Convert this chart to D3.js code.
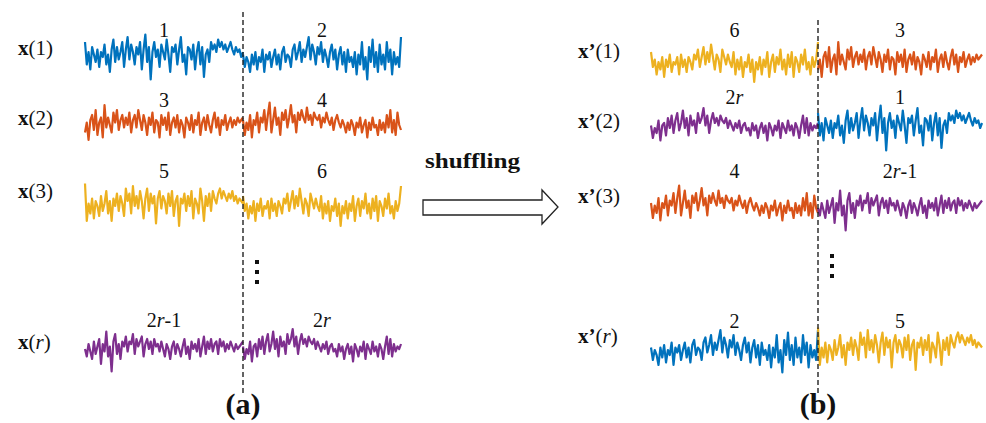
<!DOCTYPE html>
<html><head><meta charset="utf-8">
<script src="https://cdn.jsdelivr.net/npm/d3@7"></script>
<style>body{margin:0;background:#fff}svg{display:block}</style>
</head><body>
<script>
// Signal segments (normalised amplitude), one per labelled piece
const seg1 = [0.6,-0.3,0.2,-0.5,0.4,0.1,-0.2,0.3,-0.4,0.2,0.0,0.5,-0.3,0.1,-0.6,
  0.3,0.7,-0.2,0.4,-0.1,0.2,0.6,-0.4,0.3,0.8,-0.1,0.5,0.2,-0.3,0.4,
  0.1,0.6,-0.5,0.3,0.9,-0.2,0.4,-0.9,0.2,0.6,0.0,0.3,-0.4,0.5,0.2,
  -0.1,0.7,0.1,-0.6,0.4,0.2,0.5,-0.3,0.3,0.8,-0.2,0.1,-0.7,0.4,0.3,
  -0.1,0.5,-0.5,0.2,0.6,-0.3,0.4,-0.8,0.1,0.3,-0.2,0.6,0.3,0.5,0.2,
  0.7,0.4,0.6,0.3,0.5,0.2,0.4,0.6,0.3,0.1,0.4,0.2,0.3,0.0,0.2];
const seg2 = [0.1,-0.4,0.0,-0.2,-0.6,0.1,-0.3,0.2,-0.5,0.0,-0.2,0.3,-0.6,0.1,-0.1,
  0.2,-0.4,0.0,0.3,-0.3,0.1,-0.5,0.2,0.4,-0.2,0.1,0.0,-0.4,0.3,0.5,
  -0.1,0.2,0.6,-0.2,0.3,0.0,0.4,0.8,-0.1,0.5,0.2,-0.3,0.4,0.1,0.6,
  -0.2,0.3,0.0,-0.4,0.2,0.5,-0.1,0.3,-0.5,0.1,0.4,-0.3,0.2,-0.6,0.3,
  -0.2,0.0,-0.4,0.2,-0.7,0.1,-0.3,0.6,-0.5,0.0,-0.9,0.4,-0.2,0.7,-0.4,
  0.2,-0.6,0.5,-0.3,0.1,-0.5,0.6,-0.2,0.3,-0.7,0.2,-0.3,0.0,-0.4,0.8];
const seg3 = [-0.3,0.1,-0.6,0.2,0.4,-0.2,0.6,-0.4,0.1,0.3,-0.5,0.8,-0.1,0.3,0.0,
  -0.3,0.5,0.1,0.6,-0.2,0.2,0.4,-0.1,0.3,0.0,0.5,-0.3,0.2,0.4,-0.1,
  0.6,0.2,-0.2,0.4,0.1,-0.4,0.3,0.0,0.5,-0.3,0.2,0.1,-0.5,0.4,0.0,
  0.3,-0.2,0.5,-0.4,0.1,0.3,-0.1,0.4,-0.3,0.2,0.0,-0.5,0.3,0.1,-0.2,
  0.4,-0.3,0.2,0.0,0.5,-0.4,0.1,0.3,-0.2,0.4,0.0,-0.3,0.2,0.5,-0.1,
  0.3,-0.4,0.2,0.0,0.4,-0.2,0.1,0.3,-0.1,0.2,0.0,0.3,0.1,0.2,0.3];
const seg4 = [0.2,-0.4,0.1,-0.2,0.4,-0.5,0.2,0.0,0.5,-0.3,0.3,0.1,0.6,-0.2,0.4,
  0.9,-0.3,0.2,0.7,0.0,0.3,-0.4,0.5,0.2,0.6,-0.1,0.3,0.8,0.1,0.4,
  -0.3,0.5,0.2,0.6,0.3,0.1,0.7,0.2,0.4,0.0,0.5,0.3,0.2,0.4,-0.1,
  0.3,0.1,0.5,0.2,0.0,0.3,-0.2,0.2,0.4,0.1,-0.1,0.2,0.0,-0.3,0.1,
  -0.2,0.2,0.0,-0.4,0.1,-0.1,0.3,-0.3,0.0,0.2,-0.5,0.1,-0.2,0.3,-0.1,
  0.0,-0.4,0.2,-0.2,0.1,-0.3,0.4,-0.1,0.6,-0.3,0.2,-0.4,0.5,0.0,-0.2];
const seg5 = [0.9,-0.6,0.1,-0.3,0.3,-0.5,0.2,0.0,-0.4,0.4,-0.2,0.1,0.6,-0.3,0.2,
  -0.6,0.3,0.0,0.5,-0.2,0.4,0.1,-0.4,0.7,0.2,0.5,-0.3,0.8,0.0,0.4,
  -0.1,0.6,0.2,-0.5,0.3,0.7,-0.2,0.5,0.1,0.4,-0.7,0.3,0.6,-0.1,0.4,
  0.2,-0.3,0.5,0.0,0.6,-0.4,0.2,0.4,-0.8,0.3,0.1,0.5,-0.2,0.4,0.0,
  0.6,-0.5,0.3,0.1,-0.3,0.7,0.2,-0.6,0.4,0.0,0.5,-0.2,0.6,0.3,0.1,
  0.5,0.7,0.3,0.6,0.4,0.2,0.5,0.3,0.6,0.2,0.4,0.1,0.3,0.2,0.1];
const seg6 = [0.4,-0.2,0.1,-0.5,0.0,-0.3,0.2,-0.6,0.1,-0.2,0.3,-0.4,0.0,-0.1,0.2,
  -0.5,0.3,-0.2,0.1,-0.4,0.2,0.0,-0.3,0.3,0.1,0.5,-0.2,0.2,0.6,-0.1,
  0.4,0.0,0.7,0.2,-0.3,0.3,0.1,-0.4,0.5,0.2,-0.1,0.3,0.0,-0.2,0.4,
  -0.5,0.1,-0.3,0.2,-0.6,0.0,-0.2,0.3,-0.4,0.1,-0.8,0.0,-0.3,0.2,-0.5,
  0.1,-0.2,0.4,-0.6,0.0,0.3,-0.4,0.2,-0.1,0.5,-0.3,0.1,-0.5,0.3,-0.2,
  0.4,-0.6,0.2,0.0,-0.4,0.3,-0.1,0.5,-0.3,0.0,-0.5,0.2,-0.2,0.1,0.8];
const segA = [0.0,-0.3,0.2,-0.1,-0.4,0.3,-0.2,0.1,0.4,-0.6,0.2,-0.1,0.7,-0.3,0.1,
  -0.9,0.3,0.6,-0.2,0.2,-0.4,0.3,0.1,0.5,-0.1,0.3,0.2,0.6,-0.2,0.4,
  0.1,0.3,0.5,-0.3,0.2,0.4,0.0,0.3,-0.2,0.4,0.1,0.2,-0.1,0.3,0.0,
  -0.3,0.2,0.0,-0.4,0.1,0.3,-0.2,0.2,0.0,-0.3,0.1,0.4,-0.2,0.1,-0.4,
  0.3,0.0,0.2,-0.1,0.4,-0.3,0.1,0.5,-0.2,0.3,0.0,0.4,-0.1,0.2,0.3,
  -0.2,0.4,0.1,0.3,-0.1,0.2,0.0,0.3,0.1,-0.1,0.2,0.0,0.1,0.2,0.3];
const segB = [0.1,-0.4,0.0,-0.2,0.3,-0.5,0.1,0.2,-0.3,0.4,0.0,0.5,-0.2,0.3,0.6,
  -0.1,0.2,0.7,0.0,0.4,-0.3,0.5,0.1,0.3,-0.2,0.6,0.2,0.4,0.8,0.1,
  0.5,-0.2,0.3,0.6,0.2,0.4,0.1,0.5,0.3,0.2,0.4,0.0,0.3,0.1,-0.1,
  0.2,0.0,0.3,-0.2,0.1,0.2,-0.1,0.0,-0.3,0.2,-0.1,0.1,-0.4,0.0,0.2,
  -0.2,0.1,-0.5,0.2,0.0,-0.3,0.1,-0.1,0.3,-0.4,0.2,0.0,-0.2,0.3,-0.1,
  0.1,-0.3,0.2,0.0,-0.4,0.1,0.5,-0.2,0.4,-0.3,0.2,-0.1,0.1,0.0,0.2];

const blue = "#0072BD", orange = "#D95319", yellow = "#EDB120", purple = "#7E2F8E";
const segs = {
  "1": {v: seg1, c: blue}, "2": {v: seg2, c: blue},
  "3": {v: seg3, c: orange}, "4": {v: seg4, c: orange},
  "5": {v: seg5, c: yellow}, "6": {v: seg6, c: yellow},
  "2r-1": {v: segA, c: purple}, "2r": {v: segB, c: purple}
};

// Row labels and segment pairs
const rowIdx = ["1", "2", "3", "r"];
const leftPairs = [["1","2"], ["3","4"], ["5","6"], ["2r-1","2r"]];
const rightPairs = [["6","3"], ["2r","1"], ["4","2r-1"], ["2","5"]];

const W = 986, H = 423;
const svg = d3.select("body").append("svg").attr("width", W).attr("height", H);
const serif = "'Liberation Serif','Times New Roman',serif";

const panels = [
  {x0: 85, xm: 243, x1: 401, rows: [57, 125, 206, 349], labelX: 18, prime: false, pairs: leftPairs,
   labelY: [55, 125, 198, 349], numY: [37, 107, 178, 327], tag: "(a)", dashTop: 12},
  {x0: 651, xm: 818, x1: 982, rows: [62, 128, 208, 350], labelX: 578, prime: true, pairs: rightPairs,
   labelY: [58, 128, 203, 343], numY: [37, 104, 178, 328], tag: "(b)", dashTop: 20}
];
const amp = 25;
const yNorm = d3.scaleLinear().domain([-1, 1]).range([amp, -amp]);

function label(g, txt, x, y, size, anchor) {
  const t = g.append("text").attr("x", x).attr("y", y).attr("font-family", serif)
    .attr("font-size", size).attr("text-anchor", anchor || "middle").attr("fill", "#111");
  // italicise the r in labels like 2r-1
  const parts = txt.split(/(r)/);
  parts.forEach(p => { if (p) t.append("tspan").attr("font-style", p === "r" ? "italic" : null).text(p); });
  return t;
}

panels.forEach(P => {
  const g = svg.append("g");
  P.pairs.forEach((pair, i) => {
    const cy = P.rows[i];
    const halves = [[P.x0, P.xm], [P.xm, P.x1]];
    pair.forEach((key, h) => {
      const s = segs[key];
      const x = d3.scaleLinear().domain([0, s.v.length - 1]).range(halves[h]);
      const line = d3.line().x((d, k) => x(k)).y(d => cy + yNorm(d));
      g.append("path").datum(s.v).attr("d", line).attr("fill", "none")
        .attr("stroke", s.c).attr("stroke-width", 2.2).attr("stroke-linejoin", "round");
      label(g, key, (halves[h][0] + halves[h][1]) / 2, P.numY[i], 20);
    });
    // row label x(i) / x'(i)
    const t = g.append("text").attr("x", P.labelX).attr("y", P.labelY[i])
      .attr("font-family", serif).attr("font-size", 21).attr("fill", "#111");
    t.append("tspan").attr("font-weight", "bold").text(P.prime ? "x\u2019" : "x");
    t.append("tspan").text("(");
    t.append("tspan").attr("font-style", rowIdx[i] === "r" ? "italic" : null).text(rowIdx[i]);
    t.append("tspan").text(")");
  });
  // dashed divider
  g.append("line").attr("x1", P.xm).attr("x2", P.xm).attr("y1", P.dashTop).attr("y2", 396)
    .attr("stroke", "#222").attr("stroke-width", 1.4).attr("stroke-dasharray", "5,3");
  // vertical ellipsis
  const dx = P.xm + 14, dy0 = P.prime ? 254 : 260;
  [0, 10, 20].forEach(o => g.append("rect").attr("x", dx - 2).attr("y", dy0 + o)
    .attr("width", 4).attr("height", 4).attr("fill", "#111"));
  // panel tag
  g.append("text").attr("x", P.xm).attr("y", 414).attr("text-anchor", "middle")
    .attr("font-family", serif).attr("font-weight", "bold").attr("font-size", 30)
    .attr("fill", "#111").text(P.tag);
});

// shuffling arrow
svg.append("text").attr("x", 425).attr("y", 168).attr("font-family", serif)
  .attr("font-weight", "bold").attr("font-size", 20).attr("textLength", 95)
  .attr("lengthAdjust", "spacingAndGlyphs").attr("fill", "#111").text("shuffling");
const arrow = [[423,200],[542,200],[542,190],[558,207],[542,224],[542,215],[423,215]];
svg.append("path").attr("d", d3.line()(arrow) + "Z").attr("fill", "#fff")
  .attr("stroke", "#222").attr("stroke-width", 1.3);
</script>
</body></html>
